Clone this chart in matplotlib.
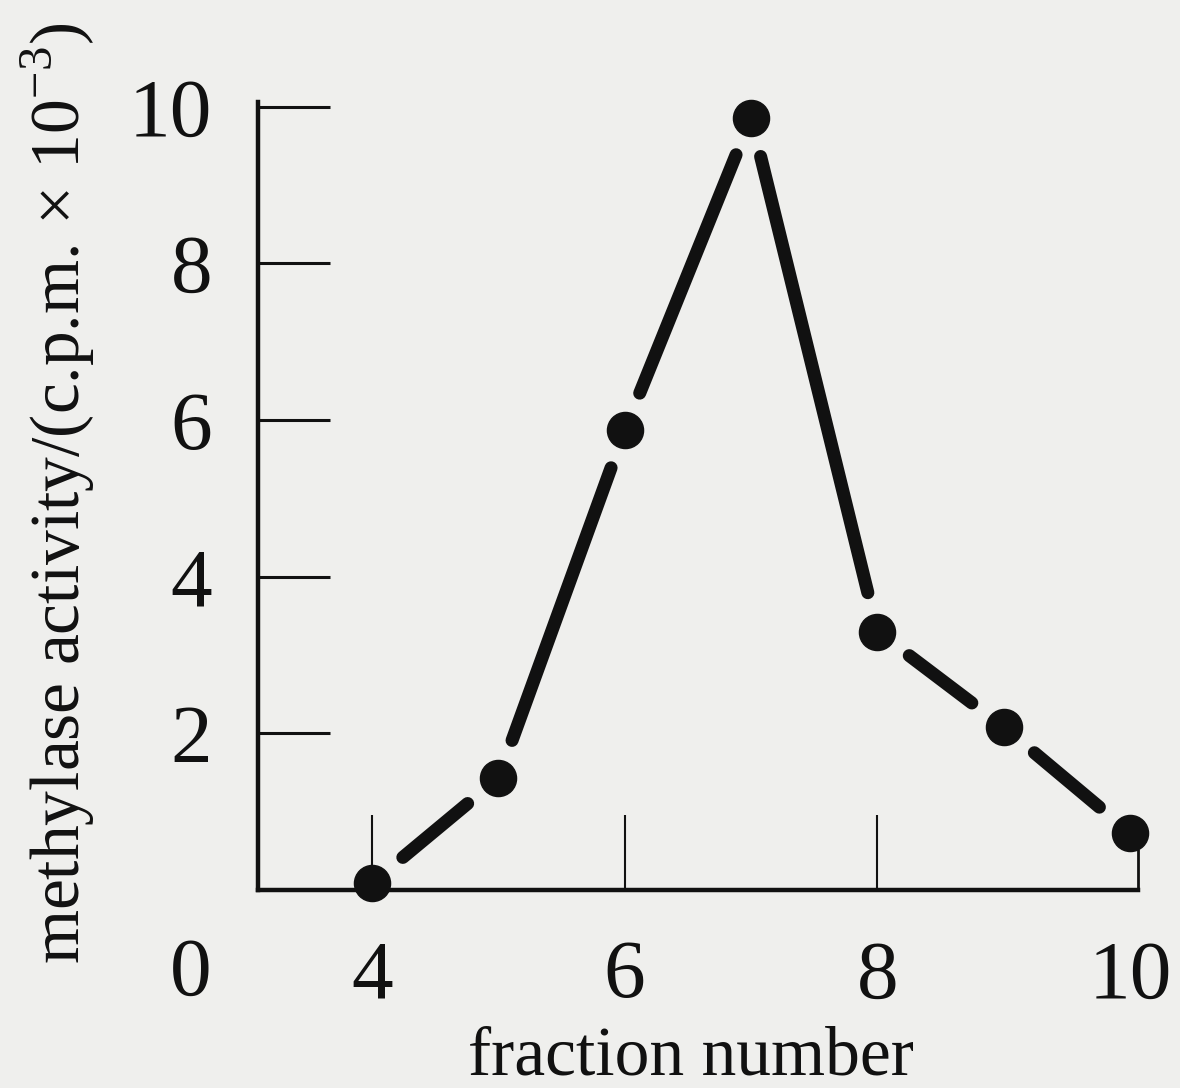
import numpy as np
import matplotlib
matplotlib.use("Agg")
import matplotlib.pyplot as plt

# data
fraction = [4, 5, 6, 7, 8, 9, 10]
activity = [0.09, 1.43, 5.87, 9.86, 3.3, 2.08, 0.73]
xticks = [4, 6, 8, 10]
yticks = [2, 4, 6, 8, 10]
ylabel = "methylase activity/(c.p.m. × 10$^{-3}$)"
xlabel = "fraction number"

bg = "#efefed"
ink = "#111111"
plt.rcParams['font.family'] = ['Liberation Serif', 'DejaVu Serif']
plt.rcParams['mathtext.fontset'] = 'custom'
plt.rcParams['mathtext.rm'] = 'Liberation Serif'

fig = plt.figure(figsize=(11.8, 10.88), dpi=100, facecolor=bg)
ax = fig.add_axes([258/1180, 198/1088, (1138-258)/1180, (986-198)/1088])
ax.set_facecolor(bg)
ax.set_xlim(3.097, 10.063)
ax.set_ylim(0, 10.06)

for s in ['top', 'right']:
    ax.spines[s].set_visible(False)
for s in ['left', 'bottom']:
    ax.spines[s].set_linewidth(3.2)
    ax.spines[s].set_color(ink)

ax.set_xticks(xticks)
ax.set_xticklabels([str(v) for v in xticks])
ax.set_yticks(yticks)
ax.set_yticklabels([str(v) for v in yticks])
ax.tick_params(axis='y', direction='in', length=52, width=2.2, pad=33,
               labelsize=60, colors=ink)
ax.tick_params(axis='x', direction='in', length=54, width=1.5, pad=36,
               labelsize=60, colors=ink)
ax.xaxis.get_major_ticks()[-1].tick1line.set_visible(False)

# end mark at right of x axis
ax.plot([1, 1], [0, 0.052], transform=ax.transAxes, color=ink, lw=2.0,
        solid_capstyle='butt', clip_on=False)

# origin label
ax.text(-0.077, -0.108, "0", transform=ax.transAxes, fontsize=60,
        ha='center', va='center', color=ink)

ax.set_ylabel(ylabel, fontsize=50, color=ink)
ax.set_xlabel(xlabel, fontsize=50, color=ink)
ax.yaxis.set_label_coords(-0.183, 0.503)
ax.xaxis.set_label_coords(0.492, -0.172)

# segments with gaps around dots
fig.canvas.draw()
gap = 40 * fig.dpi / 100
pts = ax.transData.transform(np.column_stack([fraction, activity]))
inv = ax.transData.inverted()
for i in range(len(pts) - 1):
    p0, p1 = pts[i], pts[i + 1]
    d = p1 - p0
    L = np.hypot(*d)
    u = d / L
    a = inv.transform(p0 + u * gap)
    b = inv.transform(p1 - u * gap)
    ax.plot([a[0], b[0]], [a[1], b[1]], color=ink, lw=9.4,
            solid_capstyle='round', clip_on=False)

ax.plot(fraction, activity, linestyle='none', marker='o', markersize=26,
        color=ink, clip_on=False, zorder=5)

fig.savefig("out.png", dpi=100, facecolor=bg)
